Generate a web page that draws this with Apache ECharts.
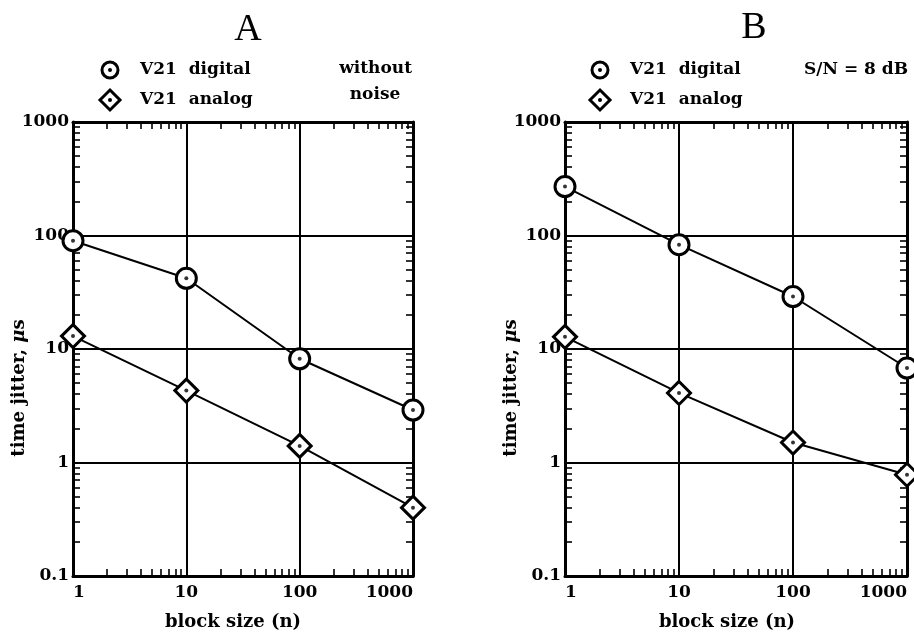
<!DOCTYPE html>
<html><head><meta charset="utf-8">
<script src="https://cdn.jsdelivr.net/npm/echarts@6/dist/echarts.min.js"></script>
<style>html,body{margin:0;padding:0;background:#fff}#c{width:914px;height:637px}</style>
</head><body><div id="c"></div>
<script>
const blockSizes = [1, 10, 100, 1000];
const digitalA = [90, 42, 8.2, 2.9];
const analogA = [13, 4.3, 1.4, 0.40];
const digitalB = [270, 83, 29, 6.8];
const analogB = [12.8, 4.1, 1.5, 0.78];
const xTickLabels = [1, 10, 100, 1000];
const yTickLabels = [0.1, 1, 10, 100, 1000];
const xMinorTicks = [2,3,4,5,6,7,8,9,20,30,40,50,60,70,80,90,200,300,400,500,600,700,800,900];
const yMinorTicks = [0.2,0.3,0.4,0.5,0.6,0.7,0.8,0.9,2,3,4,5,6,7,8,9,20,30,40,50,60,70,80,90,200,300,400,500,600,700,800,900];

const FONT = '"DejaVu Serif", serif';
const BOLD = 'bold 17px ' + FONT;
const BOLD18 = 'bold 18px ' + FONT;
const chart = echarts.init(document.getElementById('c'));

const grids = [
  {left: 73, top: 122, width: 340, height: 454},
  {left: 565, top: 122, width: 342, height: 454}
];

const xAxes = [], yAxes = [];
grids.forEach((g, gi) => {
  xAxes.push({
    gridIndex: gi, type: 'log', logBase: 10, min: 1, max: 1000, position: 'bottom',
    axisLine: {lineStyle: {color: '#000', width: 3}},
    axisTick: {show: false},
    splitLine: {show: true, lineStyle: {color: '#000', width: 2}},
    axisLabel: {customValues: xTickLabels, color: '#000', fontFamily: FONT, fontWeight: 'bold', fontSize: 17, margin: 8,
      alignMinLabel: 'left', alignMaxLabel: 'right', formatter: v => String(v)}
  });
  xAxes.push({
    gridIndex: gi, type: 'log', logBase: 10, min: 1, max: 1000, position: 'bottom',
    axisLine: {show: false},
    axisTick: {show: true, inside: true, length: 7, customValues: xMinorTicks, lineStyle: {color: '#000', width: 1.6}},
    splitLine: {show: false}, axisLabel: {show: false}
  });
  xAxes.push({
    gridIndex: gi, type: 'log', logBase: 10, min: 1, max: 1000, position: 'top',
    axisLine: {show: true, lineStyle: {color: '#000', width: 3}},
    axisTick: {show: true, inside: true, length: 7, customValues: xMinorTicks, lineStyle: {color: '#000', width: 1.6}},
    splitLine: {show: false}, axisLabel: {show: false}
  });
  yAxes.push({
    gridIndex: gi, type: 'log', logBase: 10, min: 0.1, max: 1000, position: 'left',
    axisLine: {lineStyle: {color: '#000', width: 3}},
    axisTick: {show: false},
    splitLine: {show: true, lineStyle: {color: '#000', width: 2}},
    axisLabel: {customValues: yTickLabels, color: '#000', fontFamily: FONT, fontWeight: 'bold', fontSize: 17, margin: 4,
      formatter: v => String(v)}
  });
  yAxes.push({
    gridIndex: gi, type: 'log', logBase: 10, min: 0.1, max: 1000, position: 'left',
    axisLine: {show: false},
    axisTick: {show: true, inside: true, length: 7, customValues: yMinorTicks, lineStyle: {color: '#000', width: 1.6}},
    splitLine: {show: false}, axisLabel: {show: false}
  });
  yAxes.push({
    gridIndex: gi, type: 'log', logBase: 10, min: 0.1, max: 1000, position: 'right',
    axisLine: {show: true, lineStyle: {color: '#000', width: 3}},
    axisTick: {show: true, inside: true, length: 7, customValues: yMinorTicks, lineStyle: {color: '#000', width: 1.6}},
    splitLine: {show: false}, axisLabel: {show: false}
  });
});

function pairs(vals) { return blockSizes.map((n, i) => [n, vals[i]]); }
function lineSeries(vals, gi, symbol) {
  return {
    type: 'line', xAxisIndex: gi * 3, yAxisIndex: gi * 3, data: pairs(vals), clip: false,
    symbol: symbol, symbolSize: symbol === 'circle' ? 20 : 23, showAllSymbol: true,
    itemStyle: {color: '#fff', borderColor: '#000', borderWidth: 3},
    lineStyle: {color: '#000', width: 2}, z: 3, silent: true
  };
}
function dotSeries(vals, gi) {
  return {
    type: 'scatter', xAxisIndex: gi * 3, yAxisIndex: gi * 3, data: pairs(vals), clip: false,
    symbol: 'circle', symbolSize: 4, itemStyle: {color: '#000'}, z: 4, silent: true
  };
}

function ring(cx, cy) {
  return [
    {type: 'circle', shape: {cx, cy, r: 8}, style: {fill: '#fff', stroke: '#000', lineWidth: 3}},
    {type: 'circle', shape: {cx, cy, r: 2}, style: {fill: '#000'}}
  ];
}
function diamond(cx, cy) {
  return [
    {type: 'polygon', shape: {points: [[cx, cy - 10], [cx + 10, cy], [cx, cy + 10], [cx - 10, cy]]}, style: {fill: '#fff', stroke: '#000', lineWidth: 3}},
    {type: 'circle', shape: {cx, cy, r: 2}, style: {fill: '#000'}}
  ];
}
function txt(x, y, text, align, font) {
  return {type: 'text', x, y, style: {text, font: font || BOLD, fill: '#000', align: align || 'left', verticalAlign: 'middle',
    textAlign: align || 'left', textVerticalAlign: 'middle'}};
}
function yName(x, y) {
  return {type: 'text', x, y, rotation: Math.PI / 2, style: {
    text: '{a|time jitter, }{b|μ}{a|s}', align: 'center', verticalAlign: 'middle', textAlign: 'center', textVerticalAlign: 'middle', fill: '#000',
    rich: {a: {font: BOLD18, fill: '#000'}, b: {font: 'bold italic 18px ' + FONT, fill: '#000'}}
  }};
}

const graphics = [].concat(
  txt(248, 30, 'A', 'center', '38px "Liberation Serif", serif'),
  txt(754, 28, 'B', 'center', '38px "Liberation Serif", serif'),
  ring(110, 70), txt(140, 70, 'V21  digital'),
  diamond(110, 100), txt(140, 100, 'V21  analog'),
  txt(412, 69, 'without', 'right'), txt(375, 95, 'noise', 'center'),
  ring(600, 70), txt(630, 70, 'V21  digital'),
  diamond(600, 100), txt(630, 100, 'V21  analog'),
  txt(804, 70, 'S/N = 8 dB'),
  yName(19, 388), yName(511, 388),
  txt(233, 622, 'block size (n)', 'center', BOLD18),
  txt(727, 622, 'block size (n)', 'center', BOLD18)
);

chart.setOption({
  backgroundColor: '#fff',
  animation: false,
  grid: grids,
  xAxis: xAxes,
  yAxis: yAxes,
  series: [
    lineSeries(digitalA, 0, 'circle'), dotSeries(digitalA, 0),
    lineSeries(analogA, 0, 'diamond'), dotSeries(analogA, 0),
    lineSeries(digitalB, 1, 'circle'), dotSeries(digitalB, 1),
    lineSeries(analogB, 1, 'diamond'), dotSeries(analogB, 1)
  ],
  graphic: graphics
});
</script></body></html>
